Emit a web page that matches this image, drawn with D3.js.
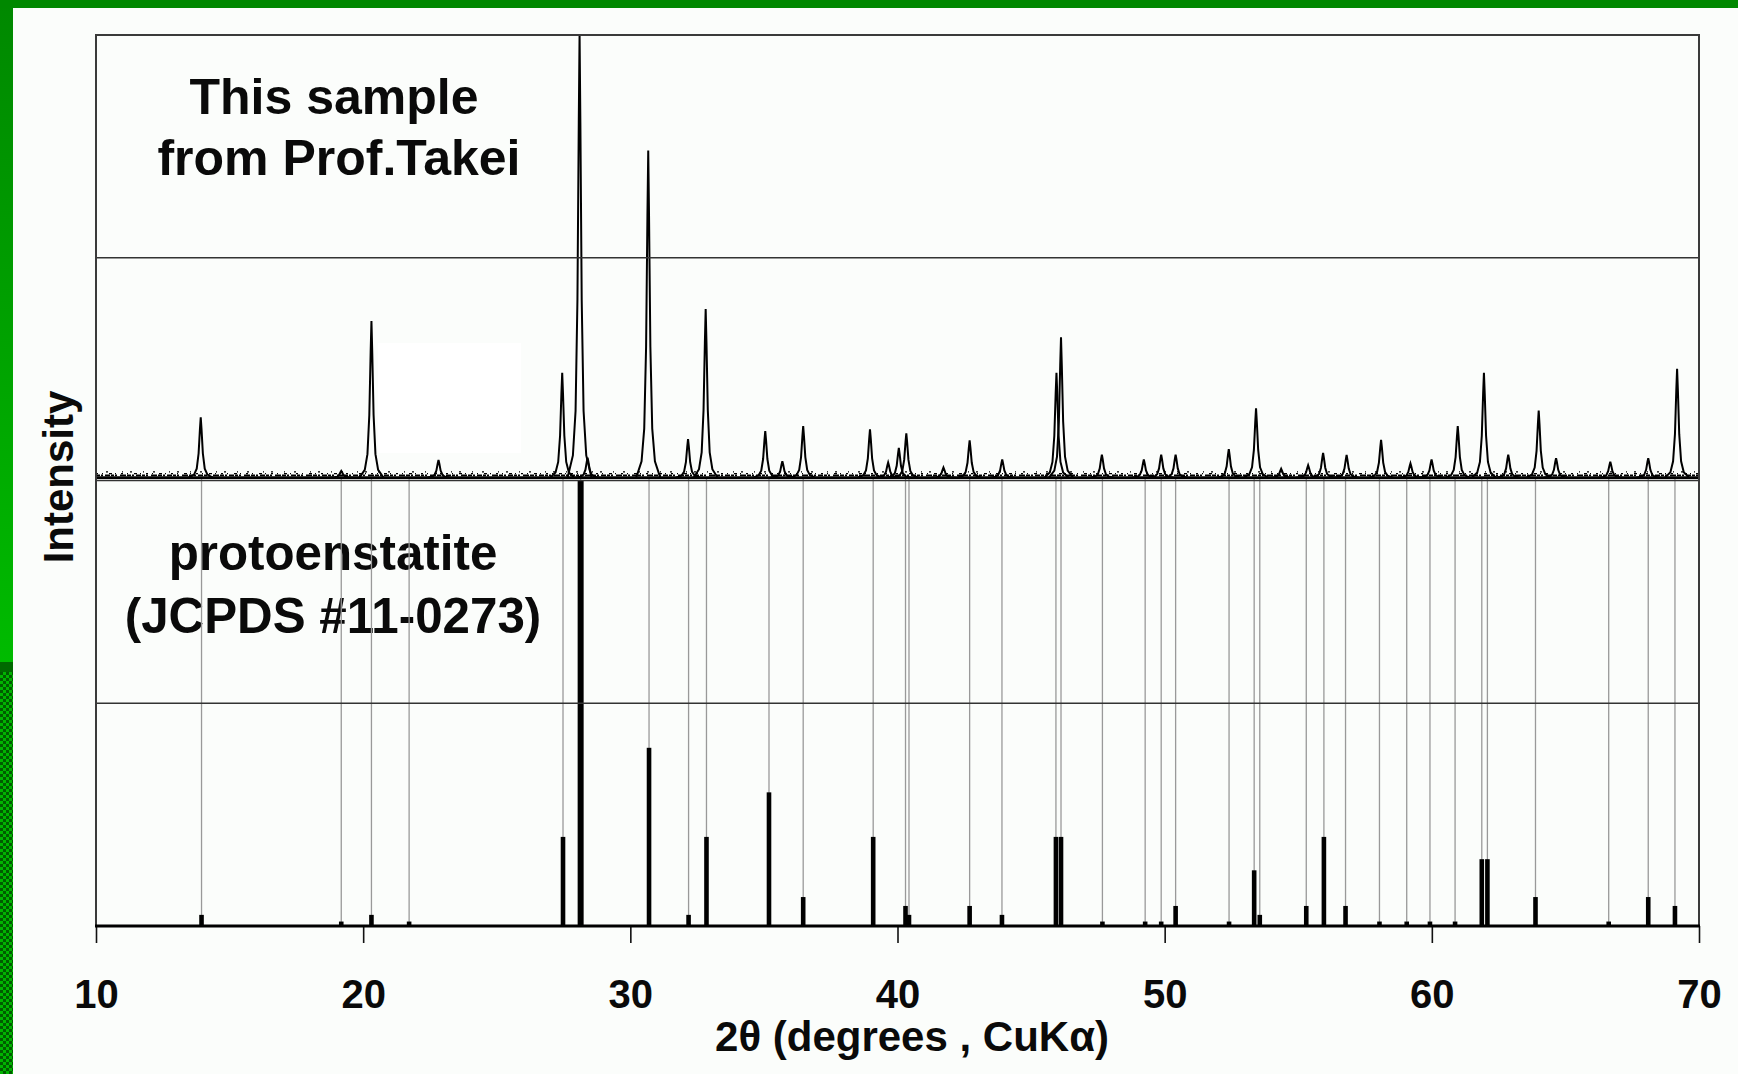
<!DOCTYPE html>
<html>
<head>
<meta charset="utf-8">
<script src="https://cdn.jsdelivr.net/npm/d3@7"></script>
<style>
  html, body { margin: 0; padding: 0; background: #fbfdfb; }
  svg { display: block; }
  text { font-family: "Liberation Sans", Arial, sans-serif; font-weight: bold; fill: #0a0a0a; }
</style>
</head>
<body>
<svg id="vis"></svg>
<script>
// 2-theta ticks
var xTicks = [10, 20, 30, 40, 50, 60, 70];

// protoenstatite, JCPDS #11-0273 (2theta, relative intensity)
var refPos = [13.95, 19.18, 20.31, 21.72, 27.48, 28.14, 30.70, 32.18, 32.85, 35.19,
              36.47, 39.09, 40.30, 40.43, 42.70, 43.91, 45.93, 46.12, 47.67, 49.27,
              49.87, 50.41, 52.41, 53.35, 53.56, 55.30, 55.96, 56.77, 58.04, 59.06,
              59.93, 60.87, 61.87, 62.08, 63.88, 66.62, 68.10, 69.10];
var refInt = [2.5, 1, 2.5, 1, 20, 100, 40, 2.5, 20, 30,
              6.5, 20, 4.5, 2.5, 4.5, 2.5, 20, 20, 1, 1,
              1, 4.5, 1, 12.5, 2.5, 4.5, 20, 4.5, 1, 1,
              1, 1, 15, 15, 6.5, 1, 6.5, 4.5];

// measured pattern: peak positions and heights (% of panel height)
var samplePos = [13.92, 19.18, 20.31, 22.82, 27.45, 28.10, 28.40, 30.67, 32.16, 32.82,
                 35.05, 35.69, 36.47, 38.97, 39.65, 40.05, 40.33, 41.72, 42.70, 43.92,
                 45.95, 46.12, 47.65, 49.22, 49.87, 50.41, 52.40, 53.42, 54.36, 55.37,
                 55.93, 56.81, 58.10, 59.20, 59.99, 60.97, 61.95, 62.86, 64.00, 64.65,
                 66.68, 68.10, 69.18];
var sampleInt = [13.6, 1.5, 35.3, 4, 23.6, 100, 4.5, 73.7, 8.7, 38,
                 10.5, 3.7, 11.6, 10.9, 3.4, 6.7, 10, 2.3, 8.4, 4.1,
                 23.6, 31.6, 5.2, 4.1, 5.2, 5.2, 6.4, 15.6, 2, 2.8,
                 5.6, 5.1, 8.5, 3.2, 4.1, 11.6, 23.6, 5.2, 15.1, 4.4,
                 3.6, 4.4, 24.5];

var sampleLabel = ["This sample", "from Prof.Takei"];
var refLabel = ["protoenstatite", "(JCPDS #11-0273)"];
var xTitle = "2θ (degrees , CuKα)";
var yTitle = "Intensity";

// drawn outline of one diffraction peak (offset in degrees, fraction of height)
var peakShape = [[-0.45, 0], [-0.25, 0.05], [-0.15, 0.15], [-0.08, 0.4], [-0.03, 0.8], [0, 1],
                 [0.03, 0.8], [0.08, 0.4], [0.15, 0.15], [0.25, 0.05], [0.45, 0]];

var W = 1738, H = 1074;
var plot = {left: 96, right: 1699, top: 35, bottom: 926};
var band = (plot.bottom - plot.top) / 4;

var svg = d3.select("#vis").attr("width", W).attr("height", H);
var defs = svg.append("defs");

// green slide frame
var grad = defs.append("linearGradient").attr("id", "gl")
    .attr("gradientUnits", "userSpaceOnUse").attr("x1", 0).attr("y1", 0).attr("x2", 0).attr("y2", 662);
grad.append("stop").attr("offset", 0).attr("stop-color", "#008800");
grad.append("stop").attr("offset", 1).attr("stop-color", "#00bb00");
var pat = defs.append("pattern").attr("id", "chk").attr("patternUnits", "userSpaceOnUse")
    .attr("width", 6).attr("height", 6);
pat.append("rect").attr("width", 6).attr("height", 6).attr("fill", "#00b400");
pat.append("rect").attr("width", 3).attr("height", 3).attr("fill", "#005c00");
pat.append("rect").attr("x", 3).attr("y", 3).attr("width", 3).attr("height", 3).attr("fill", "#005c00");

svg.append("rect").attr("width", W).attr("height", H).attr("fill", "#fbfdfb");
svg.append("rect").attr("x", 0).attr("y", 0).attr("width", 13).attr("height", 662).attr("fill", "url(#gl)");
svg.append("rect").attr("x", 0).attr("y", 662).attr("width", 13).attr("height", 10).attr("fill", "#006a00");
svg.append("rect").attr("x", 0).attr("y", 672).attr("width", 13).attr("height", H - 672).attr("fill", "url(#chk)");
svg.append("rect").attr("x", 0).attr("y", 0).attr("width", W).attr("height", 8).attr("fill", "#008800");

// faint white patch from the original
svg.append("rect").attr("x", 378).attr("y", 343).attr("width", 143).attr("height", 110).attr("fill", "#ffffff");

var x = d3.scaleLinear().domain([10, 70]).range([plot.left, plot.right]);
var ySample = d3.scaleLinear().domain([0, 100]).range([plot.top + 2 * band - 1.5, plot.top]);
var yRef = d3.scaleLinear().domain([0, 100]).range([plot.bottom, plot.top + 2 * band]);

defs.append("clipPath").attr("id", "clip").append("rect")
    .attr("x", plot.left).attr("y", plot.top)
    .attr("width", plot.right - plot.left).attr("height", plot.bottom - plot.top);

// panel labels
svg.append("text").attr("x", 334).attr("y", 114).attr("text-anchor", "middle")
    .attr("font-size", 50).text(sampleLabel[0]);
svg.append("text").attr("x", 339).attr("y", 175).attr("text-anchor", "middle")
    .attr("font-size", 50).text(sampleLabel[1]);
svg.append("text").attr("x", 333).attr("y", 570).attr("text-anchor", "middle")
    .attr("font-size", 49.3).text(refLabel[0]);
svg.append("text").attr("x", 333).attr("y", 633).attr("text-anchor", "middle")
    .attr("font-size", 49.3).text(refLabel[1]);

var g = svg.append("g").attr("clip-path", "url(#clip)");

// gray guide lines from the reference lines up to the measured baseline
g.selectAll(".guide")
  .data(refPos)
  .enter().append("line")
    .attr("class", "guide")
    .attr("x1", function(d) { return x(d); })
    .attr("x2", function(d) { return x(d); })
    .attr("y1", ySample(0))
    .attr("y2", yRef(0))
    .attr("stroke", "#999")
    .attr("stroke-width", 1.3);

// reference sticks
g.selectAll(".stick")
  .data(refPos)
  .enter().append("rect")
    .attr("class", "stick")
    .attr("x", function(d, i) { return x(d) - (refInt[i] >= 100 ? 3 : 2.3); })
    .attr("width", function(d, i) { return refInt[i] >= 100 ? 6 : 4.6; })
    .attr("y", function(d, i) { return yRef(refInt[i]); })
    .attr("height", function(d, i) { return yRef(0) - yRef(refInt[i]); })
    .attr("fill", "#000");

// measured pattern: baseline with some fuzz
var bx0 = x(10), bx1 = x(70), by = ySample(0.3);
g.append("line").attr("x1", bx0).attr("x2", bx1).attr("y1", by).attr("y2", by)
    .attr("stroke", "#000").attr("stroke-width", 2.8);
g.append("line").attr("x1", bx0).attr("x2", bx1).attr("y1", by - 2.2).attr("y2", by - 2.2)
    .attr("stroke", "#000").attr("stroke-width", 1.8)
    .attr("stroke-dasharray", "4 1 2 2 5 1 3 1 2 3 6 1");
g.append("line").attr("x1", bx0).attr("x2", bx1).attr("y1", by - 4).attr("y2", by - 4)
    .attr("stroke", "#000").attr("stroke-width", 1.4)
    .attr("stroke-dasharray", "2 4 1 6 3 3 1 5");
g.append("line").attr("x1", bx0).attr("x2", bx1).attr("y1", by - 5.8).attr("y2", by - 5.8)
    .attr("stroke", "#000").attr("stroke-width", 1.1)
    .attr("stroke-dasharray", "1 9 2 14 1 7 2 11");

var peakLine = d3.line();
g.selectAll(".peak")
  .data(samplePos)
  .enter().append("path")
    .attr("class", "peak")
    .attr("d", function(d, i) {
      return peakLine(peakShape.map(function(p) {
        return [x(d + p[0]), ySample(0.3 + sampleInt[i] * p[1])];
      }));
    })
    .attr("fill", "none")
    .attr("stroke", "#000")
    .attr("stroke-width", 2)
    .attr("stroke-linejoin", "miter");

// panel dividers and frame
[1, 2, 3].forEach(function(k) {
  svg.append("line").attr("x1", plot.left).attr("x2", plot.right)
      .attr("y1", plot.top + k * band).attr("y2", plot.top + k * band)
      .attr("stroke", "#333").attr("stroke-width", 1.5);
});
svg.append("rect").attr("x", plot.left).attr("y", plot.top)
    .attr("width", plot.right - plot.left).attr("height", plot.bottom - plot.top)
    .attr("fill", "none").attr("stroke", "#3a3a3a").attr("stroke-width", 2);

// x axis
var axis = d3.axisBottom(x).tickValues(xTicks).tickSize(17).tickFormat(d3.format("d"));
var ax = svg.append("g").attr("transform", "translate(0," + plot.bottom + ")").call(axis);
ax.attr("font-size", 40).attr("font-family", null);
ax.select(".domain").remove();
ax.selectAll(".tick line").attr("stroke", "#111").attr("stroke-width", 1.6);
ax.selectAll(".tick text").attr("y", 82).attr("dy", null).attr("fill", "#0a0a0a");
svg.append("line").attr("x1", plot.left - 1).attr("x2", plot.right + 1)
    .attr("y1", plot.bottom).attr("y2", plot.bottom)
    .attr("stroke", "#000").attr("stroke-width", 2.8);

svg.append("text").attr("x", 912).attr("y", 1051).attr("text-anchor", "middle")
    .attr("font-size", 42).text(xTitle);
svg.append("text").attr("transform", "translate(73,477) rotate(-90)")
    .attr("text-anchor", "middle").attr("font-size", 42).text(yTitle);
</script>
</body>
</html>
